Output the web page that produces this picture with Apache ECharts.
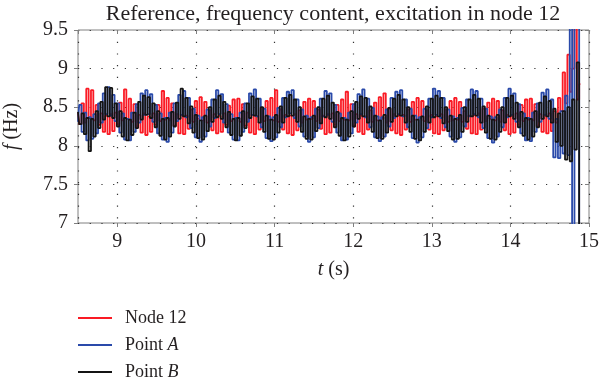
<!DOCTYPE html>
<html><head><meta charset="utf-8">
<script src="https://cdn.jsdelivr.net/npm/echarts@6/dist/echarts.min.js"></script>
<style>html,body{margin:0;padding:0;background:#fff}#c{width:600px;height:383px}</style>
</head><body><div id="c"></div>
<script>
// sampling of the three frequency tracks (time axis, s)
const sampleStart = 8.5;
const sampleStep = 0.03;
const seriesNames = ['Node 12', 'Point A', 'Point B'];
const titleText = 'Reference, frequency content, excitation in node 12';
const xTicks = [9, 10, 11, 12, 13, 14, 15];
const yTicks = [7, 7.5, 8, 8.5, 9, 9.5];

const node12 = [
8.43,8.28,8.55,8.30,8.74,8.36,8.72,8.33,8.53,8.27,
8.42,8.18,8.39,8.15,8.41,8.19,8.43,8.28,8.56,8.33,
8.73,8.35,8.61,8.31,8.54,8.25,8.40,8.17,8.42,8.14,
8.38,8.18,8.42,8.27,8.53,8.32,8.71,8.34,8.62,8.33,
8.55,8.26,8.41,8.16,8.40,8.15,8.39,8.22,8.47,8.31,
8.58,8.35,8.63,8.33,8.57,8.30,8.46,8.20,8.41,8.16,
8.39,8.18,8.42,8.27,8.52,8.32,8.60,8.36,8.61,8.31,
8.54,8.26,8.43,8.17,8.40,8.15,8.38,8.21,8.48,8.32,
8.58,8.34,8.62,8.33,8.72,8.31,8.47,8.21,8.40,8.16,
8.39,8.14,8.41,8.20,8.46,8.30,8.57,8.34,8.61,8.35,
8.58,8.32,8.47,8.22,8.39,8.15,8.41,8.17,8.42,8.27,
8.53,8.32,8.60,8.34,8.70,8.33,8.54,8.25,8.41,8.18,
8.40,8.15,8.38,8.21,8.46,8.31,8.56,8.33,8.63,8.35,
8.68,8.30,8.48,8.20,8.41,8.16,8.39,8.14,8.40,8.21,
8.47,8.31,8.57,8.34,8.62,8.36,8.58,8.32,8.46,8.21,
8.40,8.16,8.38,8.15,8.41,8.20,8.47,8.31,8.58,8.33,
8.62,8.34,8.57,8.31,8.45,8.22,8.39,8.16,8.40,8.15,
8.42,8.21,8.48,8.32,8.56,8.35,8.61,8.33,8.58,8.31,
8.46,8.20,8.40,8.15,8.39,8.17,8.42,8.27,8.53,8.32,
8.60,8.34,8.61,8.33,8.54,8.26,8.41,8.18,8.40,8.16,
8.42,8.19,8.45,8.30,8.62,8.45,8.95,8.55,9.18,8.70,9.00,9.60,8.60,8.80
];

const pointA = [
8.31,8.53,8.18,8.43,8.07,8.37,8.09,8.41,8.16,8.55,
8.30,8.68,8.41,8.76,8.39,8.66,8.32,8.55,8.17,8.42,
8.08,8.35,8.07,8.43,8.18,8.54,8.30,8.68,8.40,8.72,
8.41,8.67,8.31,8.53,8.16,8.42,8.08,8.36,8.05,8.43,
8.17,8.55,8.32,8.66,8.40,8.71,8.37,8.62,8.23,8.48,
8.11,8.39,8.05,8.37,8.12,8.47,8.25,8.60,8.36,8.72,
8.41,8.67,8.30,8.54,8.17,8.41,8.08,8.36,8.07,8.43,
8.18,8.55,8.31,8.68,8.40,8.73,8.38,8.61,8.24,8.48,
8.10,8.38,8.06,8.37,8.11,8.49,8.24,8.62,8.37,8.70,
8.42,8.72,8.36,8.60,8.25,8.47,8.12,8.39,8.05,8.37,
8.11,8.48,8.23,8.61,8.38,8.71,8.40,8.68,8.31,8.53,
8.17,8.42,8.07,8.36,8.08,8.43,8.16,8.54,8.30,8.67,
8.41,8.73,8.37,8.61,8.24,8.49,8.11,8.38,8.06,8.37,
8.12,8.47,8.25,8.62,8.36,8.70,8.41,8.72,8.38,8.60,
8.24,8.48,8.10,8.39,8.04,8.37,8.11,8.48,8.23,8.61,
8.37,8.74,8.40,8.71,8.36,8.62,8.24,8.47,8.12,8.38,
8.05,8.36,8.11,8.49,8.25,8.60,8.38,8.73,8.41,8.71,
8.37,8.61,8.23,8.48,8.10,8.38,8.04,8.37,8.12,8.47,
8.24,8.62,8.37,8.74,8.40,8.68,8.31,8.54,8.16,8.42,
8.07,8.36,8.06,8.43,8.18,8.55,8.31,8.69,8.40,8.73,
8.35,8.60,7.85,8.35,7.84,8.45,7.90,8.65,7.88,9.80,6.60,9.70,9.70,6.50
];

const pointB = [
8.44,8.28,8.42,8.15,8.36,7.93,8.35,8.12,8.45,8.23,
8.57,8.34,8.76,8.38,8.75,8.36,8.55,8.25,8.45,8.12,
8.36,8.07,8.34,8.14,8.43,8.23,8.57,8.34,8.65,8.40,
8.63,8.36,8.55,8.24,8.45,8.13,8.35,8.08,8.36,8.12,
8.44,8.25,8.56,8.35,8.74,8.38,8.62,8.29,8.51,8.17,
8.40,8.10,8.33,8.08,8.39,8.19,8.50,8.31,8.60,8.37,
8.65,8.35,8.57,8.24,8.44,8.14,8.35,8.07,8.36,8.13,
8.45,8.23,8.55,8.36,8.64,8.39,8.61,8.30,8.50,8.18,
8.39,8.09,8.34,8.08,8.40,8.17,8.51,8.30,8.62,8.38,
8.66,8.39,8.60,8.31,8.50,8.18,8.38,8.09,8.35,8.08,
8.39,8.19,8.50,8.29,8.61,8.37,8.65,8.35,8.56,8.24,
8.44,8.13,8.36,8.07,8.34,8.12,8.45,8.25,8.57,8.35,
8.64,8.38,8.62,8.30,8.51,8.18,8.39,8.10,8.33,8.09,
8.40,8.17,8.49,8.31,8.61,8.38,8.66,8.39,8.60,8.30,
8.50,8.18,8.39,8.09,8.34,8.07,8.38,8.18,8.51,8.30,
8.61,8.37,8.65,8.38,8.62,8.29,8.50,8.19,8.39,8.08,
8.35,8.09,8.40,8.18,8.50,8.31,8.60,8.38,8.66,8.39,
8.61,8.30,8.51,8.17,8.39,8.09,8.34,8.08,8.40,8.18,
8.50,8.30,8.62,8.38,8.65,8.35,8.56,8.24,8.44,8.13,
8.36,8.08,8.35,8.12,8.45,8.24,8.56,8.35,8.64,8.38,
8.58,8.30,8.48,8.05,8.42,8.00,8.45,7.82,8.50,7.80,8.60,7.95,9.08,6.80
];

const colors = ['#fa1a24', '#2a4aaa', '#141414'];
const FONT = 'Liberation Serif';
const TXT = '#231f20';

function toPairs(arr) { return arr.map((v, i) => [sampleStart + i * sampleStep, v]); }

const chart = echarts.init(document.getElementById('c'), null, { renderer: 'canvas' });
const dotted = { color: '#333', width: 1.2, type: [1.2, 10.5] };
const italicRich = (size) => ({ i: { fontFamily: FONT, fontSize: size, fontStyle: 'italic', color: TXT } });

chart.setOption({
  animation: false,
  backgroundColor: '#fff',
  title: {
    text: titleText, left: 328, top: -2, textAlign: 'center',
    textStyle: { fontFamily: FONT, fontSize: 22, fontWeight: 'normal', color: TXT }
  },
  legend: {
    orient: 'vertical', left: 78, top: 309, padding: 0, height: 74,
    itemWidth: 34, itemHeight: 2, itemGap: 9,
    icon: 'rect', data: seriesNames, selectedMode: false,
    formatter: function (n) {
      if (n === 'Point A') return 'Point {i|A}';
      if (n === 'Point B') return 'Point {i|B}';
      return n;
    },
    textStyle: { fontFamily: FONT, fontSize: 18, color: TXT, padding: [0, 0, 0, 8], rich: italicRich(18) }
  },
  grid: { left: 78, right: 11, top: 30, bottom: 160, show: true, borderColor: '#808080', borderWidth: 1,
          containLabel: false, outerBoundsMode: 'none' },
  xAxis: [{
    type: 'value', min: 8.5, max: 15, splitNumber: 7,
    axisLine: { show: false },
    axisTick: { show: true, inside: false, length: 4, lineStyle: { color: '#808080' } },
    axisLabel: { showMinLabel: false, margin: 9, fontFamily: FONT, fontSize: 20, color: TXT },
    splitLine: { show: true, lineStyle: dotted },
    name: '{i|t} (s)', nameLocation: 'middle', nameGap: 37,
    nameTextStyle: { fontFamily: FONT, fontSize: 20, color: TXT, rich: italicRich(20) }
  }, {
    type: 'value', position: 'top', min: 8.5, max: 15, splitNumber: 7,
    axisLine: { show: false },
    axisTick: { show: true, inside: true, length: 4, lineStyle: { color: '#808080' } },
    axisLabel: { show: false }, splitLine: { show: false }
  }],
  yAxis: [{
    type: 'value', min: 7, max: 9.5, interval: 0.5,
    axisLine: { show: false },
    axisTick: { show: true, inside: false, length: 4, lineStyle: { color: '#808080' } },
    axisLabel: { margin: 10, fontFamily: FONT, fontSize: 20, color: TXT },
    splitLine: { show: true, lineStyle: dotted },
    name: '{i|f} (Hz)', nameLocation: 'middle', nameGap: 56, nameRotate: 90,
    nameTextStyle: { fontFamily: FONT, fontSize: 20, color: TXT, rich: italicRich(20) }
  }, {
    type: 'value', position: 'right', min: 7, max: 9.5, interval: 0.5,
    axisLine: { show: false },
    axisTick: { show: true, inside: true, length: 4, lineStyle: { color: '#808080' } },
    axisLabel: { show: false }, splitLine: { show: false }
  }],
  series: [node12, pointA, pointB].map((arr, k) => ({
    name: seriesNames[k], type: 'line', data: toPairs(arr),
    xAxisIndex: 0, yAxisIndex: 0, step: 'middle',
    showSymbol: false, symbol: 'none', sampling: null, clip: true,
    color: colors[k], lineStyle: { color: colors[k], width: 1.8 },
    emphasis: { disabled: true }, silent: true, z: 2 + k
  }))
});
</script></body></html>
